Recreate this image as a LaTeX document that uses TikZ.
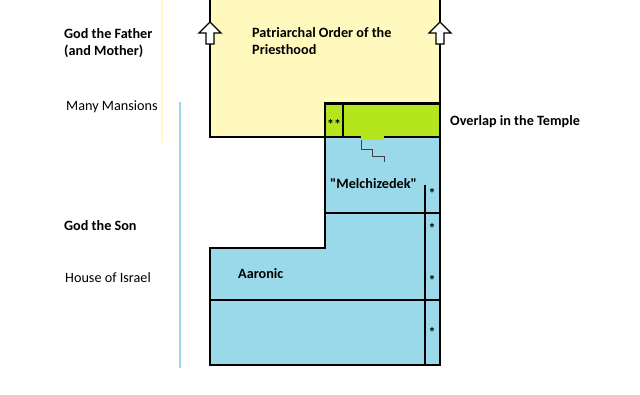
\documentclass[tikz,border=0pt]{standalone}
\usepackage{fontspec}
\setmainfont{Carlito}[Ligatures=TeXOff]
\definecolor{pyellow}{HTML}{FFF9BD}
\definecolor{pgreen}{HTML}{B5E51D}
\definecolor{pblue}{HTML}{99D9EA}
\begin{document}
\begin{tikzpicture}[x=1pt,y=-1pt,
  lbl/.style={inner sep=0pt, anchor=base west, font=\fontsize{14.2}{17}\selectfont},
  blbl/.style={lbl, font=\fontsize{14.2}{17}\selectfont\bfseries},
  star/.style={inner sep=0pt, anchor=center, font=\fontsize{14}{14}\selectfont\bfseries},
  outer/.style={line width=2.6pt, line join=miter},
  inner/.style={line width=1.3pt},
  uparrow/.style={fill=white, draw=black, line width=1.4pt, line join=miter}]
\useasboundingbox (0,0) rectangle (640,395);
\fill[white] (0,0) rectangle (640,395);
% guide lines on the left
\draw[pyellow, line width=2pt] (162,0) -- (162,143);
\draw[pblue, line width=2pt] (180,102) -- (180,368);
% fills
\fill[pyellow] (210,0) rectangle (440,137);
\fill[pblue] (325,137) -- (440,137) -- (440,365) -- (210,365) -- (210,248) -- (325,248) -- cycle;
\fill[pgreen] (325,103.5) rectangle (440,137);
\fill[pgreen] (361,137) rectangle (384,140);
% inner lines
\draw[inner] (325,213) -- (440,213);
\draw[inner] (210,300) -- (440,300);
\draw[inner] (425,185) -- (425,365);
% staircase
\draw[line width=0.9pt, black!75] (361,140) -- (361,149) -- (372,149) -- (372,156) -- (384,156) -- (384,162);
% outlines
\draw[outer] (210,0) -- (210,137) -- (361,137);
\draw[outer] (384,137) -- (440,137);
\draw[outer] (440,0) -- (440,365) -- (210,365) -- (210,248) -- (325,248) -- (325,103.5) -- (440,103.5);
\draw[outer] (343,103.5) -- (343,137);
% up arrows
\draw[uparrow] (210,22) -- (221,33) -- (214,33) -- (214,44) -- (206,44) -- (206,33) -- (199,33) -- cycle;
\draw[uparrow] (440,22) -- (451,33) -- (444,33) -- (444,44) -- (436,44) -- (436,33) -- (429,33) -- cycle;
% texts
\node[blbl] (father) at (64,39) {God the Father};
\node[blbl] (mother) at (64,56) {(and Mother)};
\node[lbl] (mansions) at (66,111) {Many Mansions};
\node[blbl] (son) at (64,231) {God the Son};
\node[lbl] (israel) at (65,283) {House of Israel};
\node[blbl] (patri) at (252,38) {Patriarchal Order of the};
\node[blbl] (priest) at (252,55) {Priesthood};
\node[blbl] (overlap) at (450,126) {Overlap in the Temple};
\node[blbl] (melch) at (330,189) {"Melchizedek"};
\node[blbl] (aaronic) at (238,279) {Aaronic};
\node[star] (dstar) at (334,124) {**};
\node[star] (s1) at (432,193) {*};
\node[star] (s2) at (432,228) {*};
\node[star] (s3) at (432,280) {*};
\node[star] (s4) at (432,332) {*};
\end{tikzpicture}
\end{document}
